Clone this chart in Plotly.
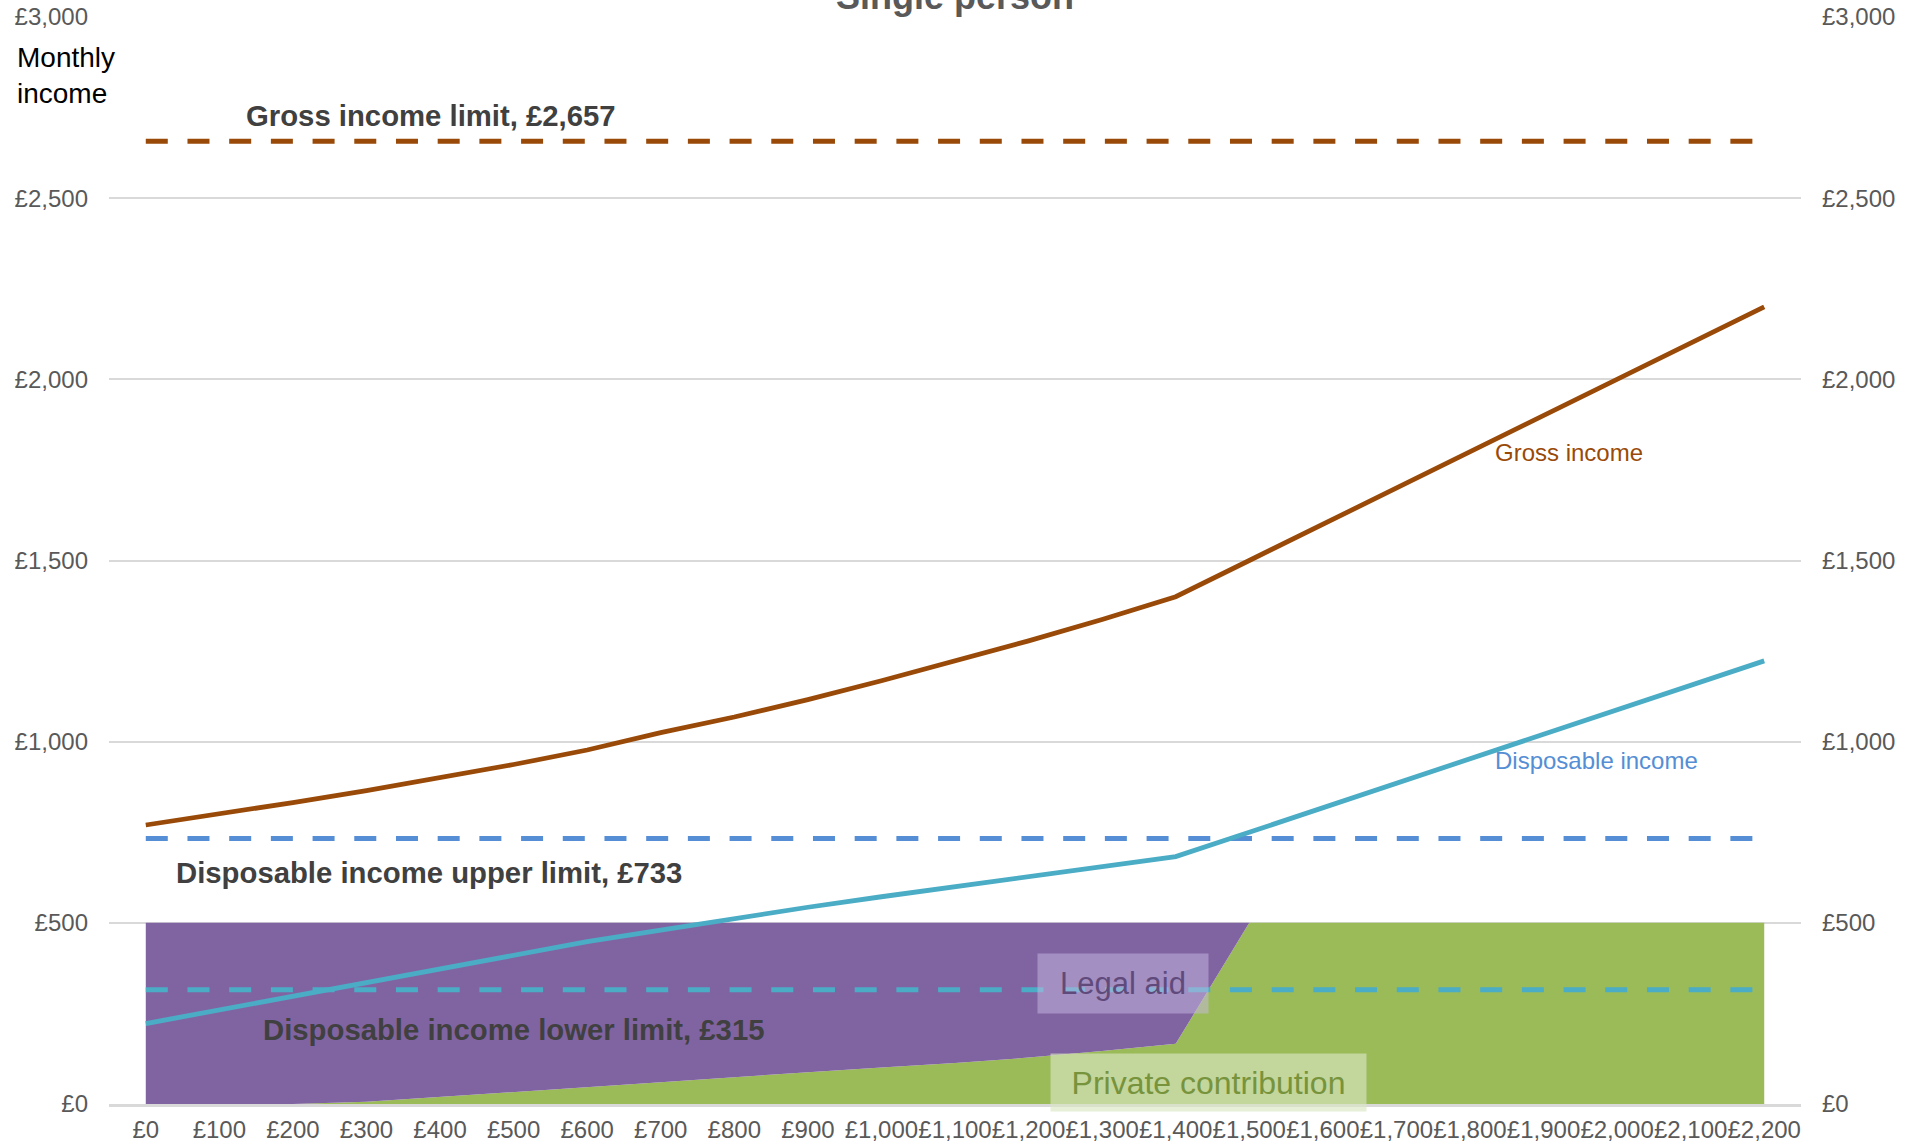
import plotly.graph_objects as go

# Private income (x axis categories) and tick labels
income = [0, 100, 200, 300, 400, 500, 600, 700, 800, 900, 1000, 1100,
          1200, 1300, 1400, 1500, 1600, 1700, 1800, 1900, 2000, 2100, 2200]
x_ticktext = ["£0", "£100", "£200", "£300", "£400", "£500", "£600", "£700",
              "£800", "£900", "£1,000", "£1,100", "£1,200", "£1,300", "£1,400",
              "£1,500", "£1,600", "£1,700", "£1,800", "£1,900", "£2,000",
              "£2,100", "£2,200"]
y_tickvals = [0, 500, 1000, 1500, 2000, 2500, 3000]
y_ticktext = ["£0", "£500", "£1,000", "£1,500", "£2,000", "£2,500", "£3,000"]

# Monthly income series
gross_income = [770, 800, 832, 865, 900, 937, 977, 1025, 1068, 1116, 1168, 1222,
                1278, 1337, 1400, 1500, 1600, 1700, 1800, 1900, 2000, 2100, 2200]
disposable_income = [222, 260, 298, 336, 374, 412, 448, 480, 512, 543, 572, 600,
                     627, 655, 683, 750, 818, 885, 953, 1020, 1088, 1155, 1223]

# Split of a £500 bill between private contribution and legal aid
private_contribution = [0, 0, 0, 6, 20, 34, 47, 60, 74, 88, 101, 113,
                        128, 146, 166, 500, 500, 500, 500, 500, 500, 500, 500]
legal_aid = [500, 500, 500, 494, 480, 466, 453, 440, 426, 412, 399, 387,
             372, 354, 334, 0, 0, 0, 0, 0, 0, 0, 0]

# Eligibility thresholds
gross_income_limit = 2657
disposable_upper_limit = 733
disposable_lower_limit = 315

BROWN = "#9A4A08"
TEAL = "#4BACC6"
BLUE = "#558ED5"
PURPLE = "#8064A2"
GREEN = "#9BBB59"
GRID = "#D9D9D9"
TICK = "#595959"
LABEL = "#404040"
FONT = "Liberation Sans, Arial, sans-serif"

fig = go.Figure()

fig.add_trace(go.Scatter(x=income, y=private_contribution, stackgroup="bill",
                         mode="lines", line=dict(width=0, color=GREEN),
                         fillcolor=GREEN, name="Private contribution"))
fig.add_trace(go.Scatter(x=income, y=legal_aid, stackgroup="bill",
                         mode="lines", line=dict(width=0, color=PURPLE),
                         fillcolor=PURPLE, name="Legal aid"))

dash = "22px,19.7px"
for level, colour in [(gross_income_limit, BROWN),
                      (disposable_upper_limit, BLUE),
                      (disposable_lower_limit, TEAL)]:
    fig.add_trace(go.Scatter(x=[income[0], income[-1]], y=[level, level],
                             mode="lines",
                             line=dict(color=colour, width=5, dash=dash)))

fig.add_trace(go.Scatter(x=income, y=gross_income, mode="lines",
                         line=dict(color=BROWN, width=4.8), name="Gross income"))
fig.add_trace(go.Scatter(x=income, y=disposable_income, mode="lines",
                         line=dict(color=TEAL, width=4.8), name="Disposable income"))

# Empty trace so the right-hand value axis is drawn
fig.add_trace(go.Scatter(x=[], y=[], yaxis="y2", hoverinfo="skip"))

axis_font = dict(family=FONT, size=24, color=TICK)

fig.update_layout(
    width=1921, height=1146,
    margin=dict(l=109, r=120, t=17, b=42),
    paper_bgcolor="white", plot_bgcolor="white",
    showlegend=False,
    font=dict(family=FONT),
    xaxis=dict(range=[-50, 2250], tickmode="array", tickvals=income,
               ticktext=x_ticktext, tickangle=0, tickfont=axis_font,
               showgrid=False, zeroline=False, showline=True,
               linecolor=GRID, linewidth=3, ticks="", automargin=False,
               ticklabelstandoff=2),
    yaxis=dict(range=[0, 3000], tickmode="array", tickvals=y_tickvals,
               ticktext=y_ticktext, tickfont=axis_font, showgrid=True,
               gridcolor=GRID, gridwidth=1.5, zeroline=False, ticks="",
               ticklabelstandoff=20, automargin=False),
    yaxis2=dict(range=[0, 3000], overlaying="y", side="right",
                tickmode="array", tickvals=y_tickvals, ticktext=y_ticktext,
                tickfont=axis_font, showgrid=False, zeroline=False,
                ticks="", ticklabelstandoff=20, automargin=False),
)

def label(text, x, y, size, colour, bold=False, xanchor="left", **kw):
    fig.add_annotation(text=f"<b>{text}</b>" if bold else text, x=x, y=y,
                       xref="x", yref="y", showarrow=False, xanchor=xanchor,
                       yanchor="middle",
                       font=dict(family=FONT, size=size, color=colour), **kw)

label(f"Gross income limit, £{gross_income_limit:,}", 133, 2727, 29.3, LABEL, bold=True)
label(f"Disposable income upper limit, £{disposable_upper_limit:,}", 39, 640, 29.3, LABEL, bold=True)
label(f"Disposable income lower limit, £{disposable_lower_limit:,}", 156, 207, 29.3, LABEL, bold=True)
label("Gross income", 1831, 1797, 24, BROWN)
label("Disposable income", 1831, 949, 24, BLUE)
label("Legal aid", 1329, 333, 31, "#604A7B", xanchor="center",
      bgcolor="rgba(200,185,225,0.5)", width=170, height=59, borderpad=0)
label("Private contribution", 1445, 59, 32, "#77933C", xanchor="center",
      bgcolor="rgba(218,230,194,0.63)", width=315, height=57, borderpad=0)

fig.add_annotation(text="<b>Single person</b>", xref="paper", yref="paper",
                   x=0.5, y=1.0193, xanchor="center", yanchor="middle",
                   showarrow=False, font=dict(family=FONT, size=36, color=TICK))
fig.add_annotation(text="Monthly<br>income", xref="paper", yref="paper",
                   x=-0.0556, y=0.946, xanchor="left", yanchor="middle",
                   align="left", showarrow=False,
                   font=dict(family=FONT, size=28, color="black"))

fig.write_html("out.html")
